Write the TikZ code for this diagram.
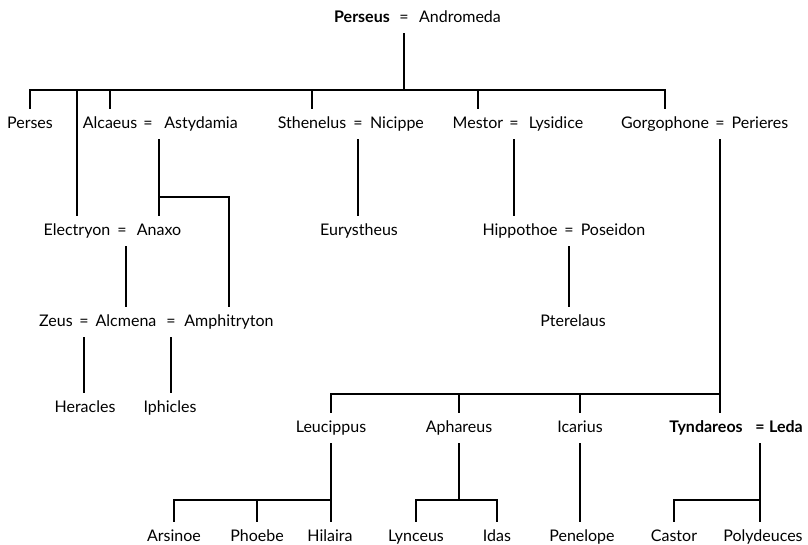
\documentclass[tikz,border=0pt]{standalone}
\usepackage{fontspec}
\setmainfont{Lato}
\begin{document}
\begin{tikzpicture}[x=0.75pt, y=-0.75pt,
  person/.style={inner xsep=1pt, inner ysep=6.2pt, text height=1.6ex, text depth=.4ex,
    font=\fontsize{12}{14}\selectfont},
  head/.style={person, font=\fontsize{12}{14}\selectfont\bfseries},
  wed/.style={person, inner xsep=0pt},
  kin/.style={line width=1.1pt}]
\useasboundingbox (0,0) rectangle (808,544);
\coordinate (top) at (0,90);
\coordinate (split) at (0,197);
\coordinate (mid) at (0,394);
\coordinate (low) at (0,500);

\node[head] (perseus) at (362,18) {Perseus};
\node[wed] (eq0) at (404,18) {=};
\node[person] (andromeda) at (460,18) {Andromeda};

\node[person] (perses) at (30,124) {Perses};
\node[person] (alcaeus) at (110,124) {Alcaeus};
\node[wed] (eq1) at (148,124) {=};
\node[person] (astydamia) at (201,124) {Astydamia};
\node[person] (sthenelus) at (312,124) {Sthenelus};
\node[wed] (eq2) at (358,124) {=};
\node[person] (nicippe) at (397,124) {Nicippe};
\node[person] (mestor) at (478,124) {Mestor};
\node[wed] (eq3) at (514,124) {=};
\node[person] (lysidice) at (556,124) {Lysidice};
\node[person] (gorgophone) at (665,124) {Gorgophone};
\node[wed] (eq4) at (720,124) {=};
\node[person] (perieres) at (760,124) {Perieres};

\node[person] (electryon) at (77,231) {Electryon};
\node[wed] (eq5) at (122,231) {=};
\node[person] (anaxo) at (159,231) {Anaxo};
\node[person] (eurystheus) at (359,231) {Eurystheus};
\node[person] (hippothoe) at (520,231) {Hippothoe};
\node[wed] (eq6) at (569,231) {=};
\node[person] (poseidon) at (613,231) {Poseidon};

\node[person] (zeus) at (56,322) {Zeus};
\node[wed] (eq7) at (84,322) {=};
\node[person] (alcmena) at (126,322) {Alcmena};
\node[wed] (eq8) at (171,322) {=};
\node[person] (amphitryton) at (229,322) {Amphitryton};
\node[person] (pterelaus) at (573,322) {Pterelaus};

\node[person] (heracles) at (85,408) {Heracles};
\node[person] (iphicles) at (170,408) {Iphicles};

\node[person] (leucippus) at (331,428) {Leucippus};
\node[person] (aphareus) at (459,428) {Aphareus};
\node[person] (icarius) at (580,428) {Icarius};
\node[head] (tyndareos) at (706,428) {Tyndareos};
\node[wed, font=\fontsize{12}{14}\selectfont\bfseries] (eq9) at (760,428) {=};
\node[head] (leda) at (786,428) {Leda};

\node[person] (arsinoe) at (174,537) {Arsinoe};
\node[person] (phoebe) at (257,537) {Phoebe};
\node[person] (hilaira) at (330,537) {Hilaira};
\node[person] (lynceus) at (416,537) {Lynceus};
\node[person] (idas) at (497,537) {Idas};
\node[person] (penelope) at (582,537) {Penelope};
\node[person] (castor) at (674,537) {Castor};
\node[person] (polydeuces) at (763,537) {Polydeuces};

\draw[kin] (eq0.south) -- (eq0 |- top);
\draw[kin] (perses.north) -- (perses |- top) -- (gorgophone |- top) -- (gorgophone.north);
\draw[kin] (electryon |- top) -- (electryon.north);
\draw[kin] (alcaeus |- top) -- (alcaeus.north);
\draw[kin] (sthenelus |- top) -- (sthenelus.north);
\draw[kin] (mestor |- top) -- (mestor.north);

\draw[kin] (anaxo |- eq1.south) -- (anaxo.north);
\draw[kin] (anaxo |- split) -| (amphitryton.north);
\draw[kin] (eq2.south) -- (eq2 |- eurystheus.north);
\draw[kin] (eq3.south) -- (eq3 |- hippothoe.north);
\draw[kin] (alcmena |- eq5.south) -- (alcmena.north);
\draw[kin] (eq6.south) -- (eq6 |- pterelaus.north);
\draw[kin] (eq7.south) -- (eq7 |- heracles.north);
\draw[kin] (eq8.south) -- (eq8 |- iphicles.north);

\draw[kin] (eq4.south) -- (eq4 |- tyndareos.north);
\draw[kin] (leucippus.north) -- (leucippus |- mid) -- (eq4 |- mid);
\draw[kin] (aphareus |- mid) -- (aphareus.north);
\draw[kin] (icarius |- mid) -- (icarius.north);

\draw[kin] (leucippus.south) -- (leucippus |- hilaira.north);
\draw[kin] (arsinoe.north) -- (arsinoe |- low) -- (leucippus |- low);
\draw[kin] (phoebe |- low) -- (phoebe.north);
\draw[kin] (aphareus.south) -- (aphareus |- low);
\draw[kin] (lynceus.north) -- (lynceus |- low) -- (idas |- low) -- (idas.north);
\draw[kin] (icarius.south) -- (icarius |- penelope.north);
\draw[kin] (eq9.south) -- (eq9 |- polydeuces.north);
\draw[kin] (castor.north) -- (castor |- low) -- (eq9 |- low);
\end{tikzpicture}
\end{document}
